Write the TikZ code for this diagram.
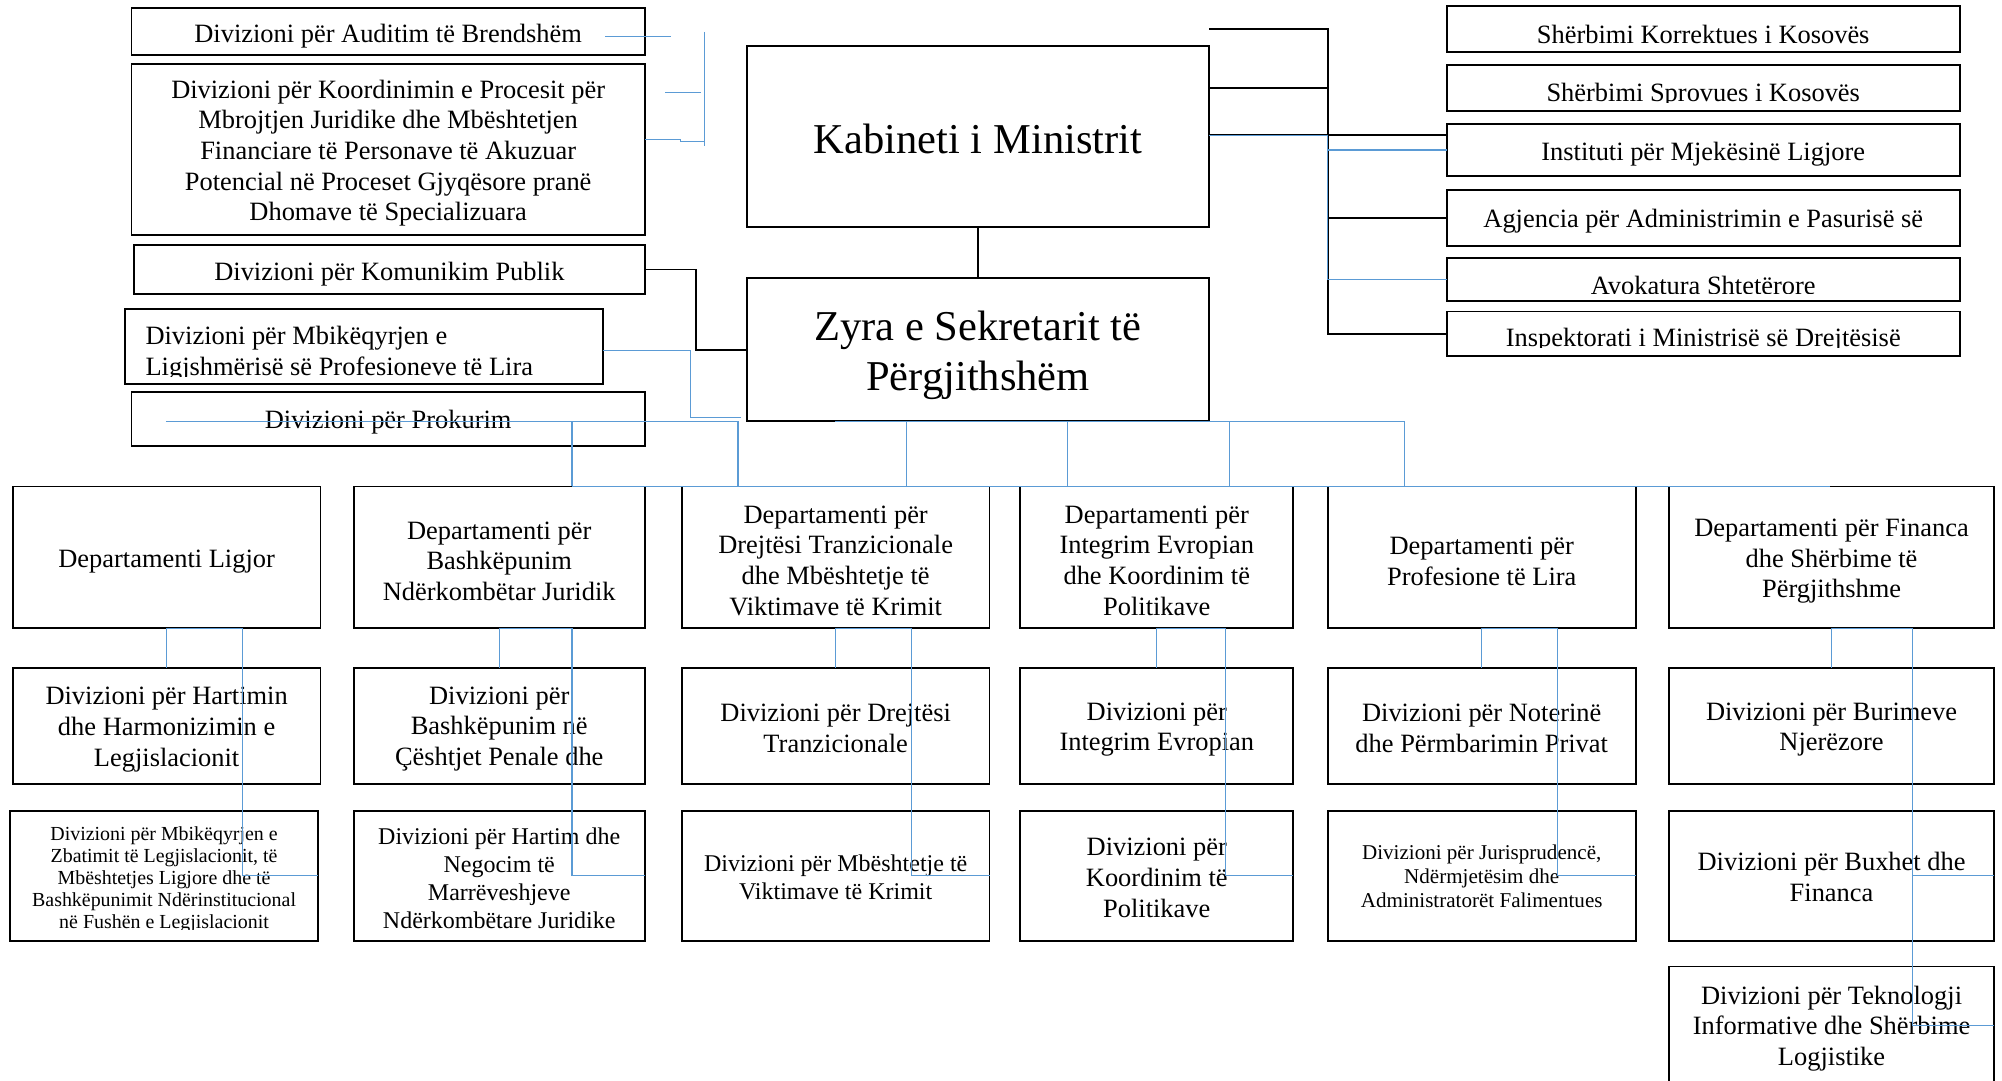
\documentclass[tikz,border=0pt]{standalone}
\usepackage{fontspec}
\setmainfont{Liberation Serif}
\usetikzlibrary{calc}
\definecolor{cblue}{RGB}{91,155,213}
\tikzset{
  bx/.style={draw=black, line width=1.5pt, inner sep=0pt, outer sep=0pt, anchor=north west},
  txt/.style={inner sep=0pt, outer sep=0pt, font=\fontsize{20.7}{24}\selectfont},
  bl/.style={draw=cblue, line width=0.85pt},
  bk/.style={draw=black, line width=1.4pt},
  big/.style={font=\fontsize{33.3}{39}\selectfont},
  mid/.style={font=\fontsize{18.8}{22}\selectfont},
  sml/.style={font=\fontsize{16.5}{19}\selectfont},
  tiny/.style={font=\fontsize{15.6}{17.3}\selectfont},
}
% #1 text options, #2 name, #3 x, #4 y, #5 width, #6 height, #7 shift down, #8 text
\newcommand\obx[8][]{%
  \node[bx,minimum width=#5pt,minimum height=#6pt] (#2) at (#3,#4) {};
  \node[txt,align=center,#1] (#2t) at ($(#2.center)+(0,#7)$) {#8};}
\begin{document}
\begin{tikzpicture}[x=1pt,y=-1pt]
\useasboundingbox (0,0) rectangle (1568,846);

% ---- top left column
\obx{aud}{103}{6}{402}{37}{3.5}{Divizioni për Auditim të Brendshëm}
\obx{koo}{103}{50}{402}{134}{3}{Divizioni për Koordinimin e Procesit për\\Mbrojtjen Juridike dhe Mbështetjen\\Financiare të Personave të Akuzuar\\Potencial në Proceset Gjyqësore pranë\\Dhomave të Specializuara}
\obx{kom}{105}{192}{400}{38}{3.5}{Divizioni për Komunikim Publik}
\node[bx,minimum width=374pt,minimum height=59pt] (mbl) at (98,242) {};
\begin{scope}
\clip (98,242) rectangle (472,294.5);
\node[txt,align=left,anchor=north west] (mblt) at (114,255.4) {Divizioni për Mbikëqyrjen e\\Ligjshmërisë së Profesioneve të Lira};
\end{scope}
\obx{pro}{103}{307}{402}{42}{3}{Divizioni për Prokurim}

% ---- centre
\obx[big]{kab}{585}{36}{362}{142}{1.5}{Kabineti i Ministrit}
\obx[big]{zyr}{585}{218}{362}{112}{4.5}{Zyra e Sekretarit të\\Përgjithshëm}

% ---- right column
\node[bx,minimum width=402pt,minimum height=36pt] (kor) at (1133,5) {};
\node[txt,anchor=base] (kort) at (1334,34) {Shërbimi Korrektues i Kosovës};
\node[bx,minimum width=402pt,minimum height=36pt] (spr) at (1133,51) {};
\begin{scope}
\clip (1133,51) rectangle (1535,80.5);
\node[txt,anchor=base] (sprt) at (1334,79.5) {Shërbimi Sprovues i Kosovës};
\end{scope}
\obx{ins}{1133}{97}{402}{41}{3}{Instituti për Mjekësinë Ligjore}
\obx{agj}{1133}{149}{402}{44}{2}{Agjencia për Administrimin e Pasurisë së}
\node[bx,minimum width=402pt,minimum height=34pt] (avo) at (1133,202) {};
\begin{scope}
\clip (1133,202) rectangle (1535,229.5);
\node[txt,anchor=base] (avot) at (1334,231) {Avokatura Shtetërore};
\end{scope}
\node[bx,minimum width=402pt,minimum height=35pt] (isp) at (1133,244) {};
\begin{scope}
\clip (1133,244) rectangle (1535,272.5);
\node[txt,anchor=base] (ispt) at (1334,271.5) {Inspektorati i Ministrisë së Drejtësisë};
\end{scope}

% ---- departments
\obx{d1}{10}{381}{241}{111}{3.5}{Departamenti Ligjor}
\obx{d2}{277}{381}{228}{111}{3}{Departamenti për\\Bashkëpunim\\Ndërkombëtar Juridik}
\obx{d3}{534}{381}{241}{111}{2.5}{Departamenti për\\Drejtësi Tranzicionale\\dhe Mbështetje të\\Viktimave të Krimit}
\obx{d4}{799}{381}{214}{111}{2.5}{Departamenti për\\Integrim Evropian\\dhe Koordinim të\\Politikave}
\obx{d5}{1040}{381}{241}{111}{3}{Departamenti për\\Profesione të Lira}
\obx{d6}{1307}{381}{255}{111}{3}{Departamenti për Financa\\dhe Shërbime të\\Përgjithshme}

% ---- row 2
\obx{e1}{10}{523}{241}{91}{3}{Divizioni për Hartimin\\dhe Harmonizimin e\\Legjislacionit}
\obx{e2}{277}{523}{228}{91}{2.5}{Divizioni për\\Bashkëpunim në\\Çështjet Penale dhe}
\obx{e3}{534}{523}{241}{91}{2}{Divizioni për Drejtësi\\Tranzicionale}
\obx{e4}{799}{523}{214}{91}{3}{Divizioni për\\Integrim Evropian}
\obx{e5}{1040}{523}{241}{91}{2}{Divizioni për Noterinë\\dhe Përmbarimin Privat}
\obx{e6}{1307}{523}{255}{91}{3}{Divizioni për Burimeve\\Njerëzore}

% ---- row 3
\node[bx,minimum width=241pt,minimum height=102pt] (f1) at (8,635) {};
\begin{scope}
\clip (8,635) rectangle (249,728.3);
\node[txt,tiny,align=center,anchor=north] (f1t) at (128.5,647.1) {Divizioni për Mbikëqyrjen e\\Zbatimit të Legjislacionit, të\\Mbështetjes Ligjore dhe të\\Bashkëpunimit Ndërinstitucional\\në Fushën e Legjislacionit};
\end{scope}
\obx[mid]{f2}{277}{635}{228}{102}{2}{Divizioni për Hartim dhe\\Negocim të\\Marrëveshjeve\\Ndërkombëtare Juridike}
\obx[mid]{f3}{534}{635}{241}{102}{1.5}{Divizioni për Mbështetje të\\Viktimave të Krimit}
\obx{f4}{799}{635}{214}{102}{1.5}{Divizioni për\\Koordinim të\\Politikave}
\obx[sml]{f5}{1040}{635}{241}{102}{0.5}{Divizioni për Jurisprudencë,\\Ndërmjetësim dhe\\Administratorët Falimentues}
\obx{f6}{1307}{635}{255}{102}{1}{Divizioni për Buxhet dhe\\Financa}

% ---- row 4
\obx{g6}{1307}{757}{255}{93}{2}{Divizioni për Teknologji\\Informative dhe Shërbime\\Logjistike}

% ---- black connectors
\coordinate (k23) at (947,23);
\coordinate (k69) at (947,69);
\coordinate (k106) at (947,106);
\coordinate (rv) at (1040,0);
\coordinate (c545) at (545,0);
\draw[bk] (kab.south) -- (zyr.north);
\draw[bk] (k23) -- (k23 -| rv) -- (isp.west -| rv) -- (isp.west);
\draw[bk] (k69) -- (k69 -| rv);
\draw[bk] (k106) -- (k106 -| ins.west);
\draw[bk] (agj.west -| rv) -- (agj.west);
\draw[bk] (kom.east) -- (kom.east -| c545) -- (zyr.west -| c545) -- (zyr.west);

% ---- blue connectors, right
\draw[bl] (k106) -- (k106 -| rv) -- (avo.west -| rv) -- (avo.west);
\draw[bl] (ins.west -| rv) -- (ins.west);

% ---- blue connectors, left
\coordinate (a1) at (474,28.7);
\coordinate (a2) at (525.6,28.7);
\draw[bl] (a1) -- (a2);
\coordinate (v1) at (552,25);
\coordinate (v2) at (552,114);
\draw[bl] (v1) -- (v2);
\coordinate (b1) at (521,72.6);
\coordinate (b2) at (549,72.6);
\draw[bl] (b1) -- (b2);
\coordinate (c1) at (505,109);
\draw[bl] (c1) -- ++(28,0) -- ++(0,2) -- ++(19,0);
\coordinate (m1) at (472,274.5);
\draw[bl] (m1) -- ++(69,0) -- ++(0,52.5) -- ++(39,0);

% ---- blue connectors to departments
\coordinate (p1) at (130,330);
\coordinate (p2) at (578,330);
\coordinate (p3) at (448,330);
\draw[bl] (p1) -- (p2) -- (p2 |- d3.north);
\draw[bl] (p3) -- (p3 |- d2.north);
\coordinate (z1) at (654,330);
\coordinate (z2) at (1100,330);
\coordinate (z3) at (710,330);
\coordinate (z4) at (836,330);
\coordinate (z5) at (963,330);
\draw[bl] (z1) -- (z2) -- (z2 |- d5.north);
\draw[bl] (z3) -- (z3 |- d3.north);
\draw[bl] (z4) -- (z4 |- d4.north);
\draw[bl] (z5) -- (z5 |- d4.north);
\coordinate (t1) at (448,381);
\coordinate (t2) at (1433,381);
\draw[bl] (t1) -- (t2);

% ---- blue connectors inside departments
\foreach \d/\e/\f/\x in {d1/e1/f1/190, d2/e2/f2/448, d3/e3/f3/714, d4/e4/f4/960, d5/e5/f5/1220, d6/e6/f6/1498} {
  \coordinate (vx) at (\x,0);
  \draw[bl] (\d.south) -- (\e.north);
  \draw[bl] (\d.south) -- (\d.south -| vx) -- (\f.east -| vx) -- (\f.east);
}
\coordinate (v6) at (1498,0);
\draw[bl] (f6.east -| v6) -- (g6.east -| v6) -- (g6.east);
\end{tikzpicture}
\end{document}
